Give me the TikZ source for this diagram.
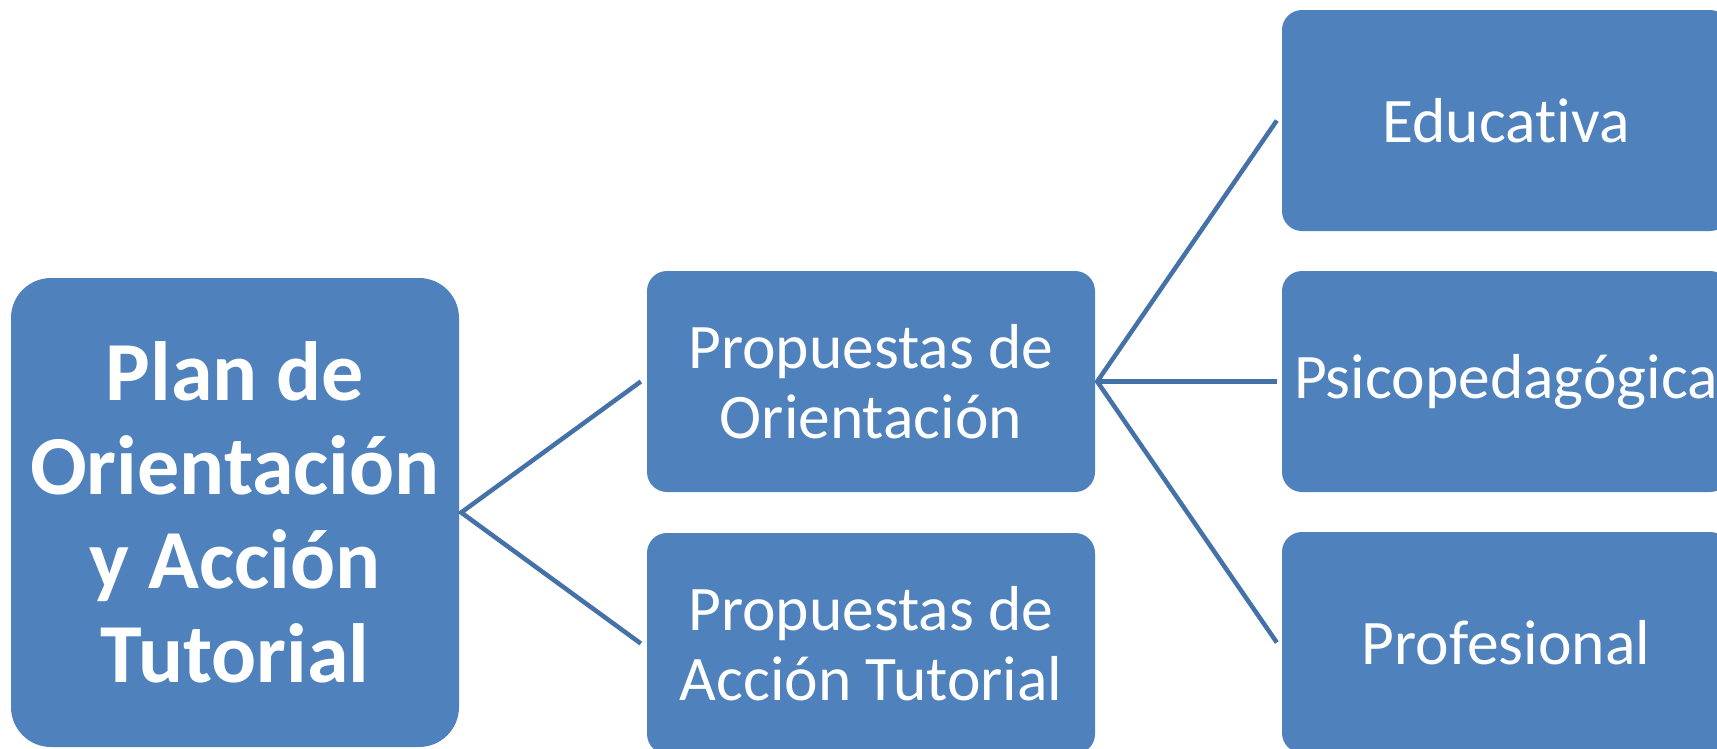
\documentclass[tikz,border=0pt]{standalone}
\usepackage{fontspec}
\setmainfont{Carlito}[RawFeature={-liga;-clig;-dlig;-calt}]
\definecolor{boxblue}{RGB}{79,129,189}
\definecolor{lineblue}{RGB}{68,114,168}
\begin{document}
\begin{tikzpicture}[x=1pt,y=-1pt,
  box/.style={rectangle, fill=boxblue, draw=none, text=white, inner sep=0pt,
    minimum width=448pt, minimum height=221pt, rounded corners=20pt, align=center,
    font=\fontsize{63.5}{70}\selectfont},
  rootbox/.style={box, minimum height=469pt, rounded corners=40pt,
    font=\fontsize{84}{94}\selectfont\bfseries},
  conn/.style={draw=lineblue, line width=4.5pt}]
\useasboundingbox (0,0) rectangle (1717,748);
\clip (0,0) rectangle (1717,748);
\node[rootbox] (root) at (235,512.5) {Plan de\\Orientación\\y Acción\\Tutorial};
\node[box] (po) at (871,381.5) {Propuestas de\\Orientación};
\node[box] (pa) at (871,643.5) {Propuestas de\\Acción Tutorial};
\node[box] (edu) at (1506,120.5) {Educativa};
\node[box] (psi) at (1506,381.5) {Psicopedagógica};
\node[box] (pro) at (1506,642.5) {Profesional};
\draw[conn] ([xshift=-6pt]po.west) -- ([xshift=2pt]root.east) -- ([xshift=-6pt]pa.west);
\draw[conn] ([xshift=-5pt]edu.west) -- ([xshift=2pt]po.east) -- ([xshift=-5pt]pro.west);
\draw[conn] ([xshift=2pt]po.east) -- ([xshift=-5pt]psi.west);
\end{tikzpicture}
\end{document}
